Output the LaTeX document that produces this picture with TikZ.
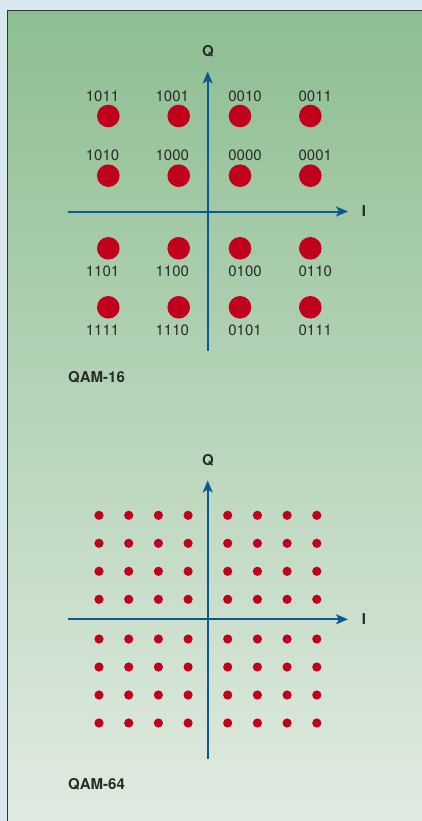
\documentclass[tikz,border=0pt]{standalone}
\usepackage{fontspec}
\setmainfont{TeX Gyre Heros}
\usetikzlibrary{arrows.meta}

\definecolor{panelblue}{HTML}{D8E7F0}
\definecolor{boxtop}{HTML}{8DBE92}
\definecolor{boxbottom}{HTML}{E1EBE1}
\definecolor{axisblue}{HTML}{0B5894}
\definecolor{dotred}{HTML}{C1001B}
\definecolor{labelgray}{HTML}{2A2A2A}

\tikzset{
  axis/.style={axisblue, line width=2pt, -{Stealth[length=12pt,width=10pt,inset=3pt]}},
  axislabel/.style={font=\fontsize{15}{18}\selectfont\bfseries, text=labelgray, inner sep=0pt},
  bits/.style={font=\fontsize{15}{18}\selectfont, text=labelgray, inner sep=0pt},
  schemename/.style={font=\fontsize{15}{18}\selectfont\bfseries, text=labelgray, anchor=west, inner sep=0pt},
}

\begin{document}
\begin{tikzpicture}[x=1pt,y=-1pt]
\useasboundingbox (0,0) rectangle (422,821);
\clip (0,0) rectangle (422,821);

% page and panel
\fill[panelblue] (0,0) rectangle (422,821);
\shade[top color=boxtop, bottom color=boxbottom] (7.3,10.7) rectangle (426,826);
\draw[line width=1.5pt, black!80] (7.3,826) -- (7.3,10.7) -- (426,10.7);

% QAM-16 axes
\coordinate (q16bot) at (207.7,351);
\coordinate (q16top) at (207.7,71.5);
\coordinate (i16left) at (68,211.5);
\coordinate (i16right) at (348,211.5);
\draw[axis] (q16bot) -- (q16top);
\draw[axis] (i16left) -- (i16right);
\node[axislabel] (q16) at (208,51.5) {Q};
\node[axislabel] (i16) at (364,211) {I};

% QAM-16 points, labels above for the upper half, below for the lower half
\foreach \dy/\ly/\a/\b/\c/\d in {116/96/1011/1001/0010/0011,
                                  175.7/155/1010/1000/0000/0001,
                                  248.3/271.5/1101/1100/0100/0110,
                                  307.3/330/1111/1110/0101/0111}{
  \fill[dotred] (108.3,\dy) circle (11.3pt);
  \fill[dotred] (178.7,\dy) circle (11.3pt);
  \fill[dotred] (240,\dy) circle (11.3pt);
  \fill[dotred] (310.3,\dy) circle (11.3pt);
  \node[bits] at (102.5,\ly) {\a};
  \node[bits] at (172.3,\ly) {\b};
  \node[bits] at (245,\ly) {\c};
  \node[bits] at (315.3,\ly) {\d};
}
\node[schemename] (qam16) at (68,377) {QAM-16};

% QAM-64 axes
\coordinate (q64bot) at (207.7,759);
\coordinate (q64top) at (207.7,480.5);
\coordinate (i64left) at (68,619.3);
\coordinate (i64right) at (348,619.3);
\draw[axis] (q64bot) -- (q64top);
\draw[axis] (i64left) -- (i64right);
\node[axislabel] (q64) at (208,460) {Q};
\node[axislabel] (i64) at (364,619) {I};

% QAM-64 points
\foreach \px in {99,128.7,158.4,188.1,227.7,257.4,287.1,316.8}{
  \foreach \py in {515.3,543.3,571.3,599.3,639,667,695,723}{
    \fill[dotred] (\px,\py) circle (4.6pt);
  }
}
\node[schemename] (qam64) at (68,784) {QAM-64};

\end{tikzpicture}
\end{document}
